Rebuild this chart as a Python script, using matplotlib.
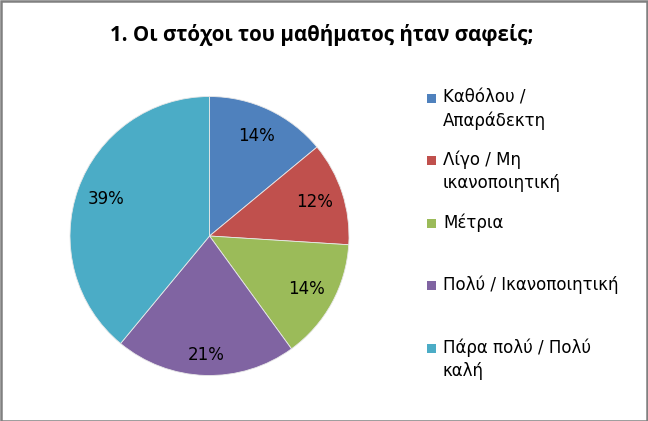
import matplotlib
matplotlib.use("Agg")
import numpy as np
import matplotlib.pyplot as plt
from matplotlib.patches import Rectangle

categories = ["Καθόλου /\nΑπαράδεκτη", "Λίγο / Μη\nικανοποιητική", "Μέτρια",
              "Πολύ / Ικανοποιητική", "Πάρα πολύ / Πολύ\nκαλή"]
values = [14, 12, 14, 21, 39]
colors = ["#4F81BD", "#C0504D", "#9BBB59", "#8064A2", "#4BACC6"]
title = "1. Οι στόχοι του μαθήματος ήταν σαφείς;"

plt.rcParams['font.family'] = ['DejaVu Sans']

W, H = 648, 421
fig = plt.figure(figsize=(W / 100, H / 100), dpi=100)

cx, cy, r = 209.5, 236, 139.5
ax = fig.add_axes([(cx - r) / W, (H - cy - r) / H, 2 * r / W, 2 * r / H])
wedges, texts, autotexts = ax.pie(values, colors=colors, startangle=90, counterclock=False,
                                  autopct='%1.0f%%', pctdistance=0.79,
                                  wedgeprops=dict(edgecolor='#e8e8e8', linewidth=0.6),
                                  textprops=dict(fontsize=12, color='#000000'))
# Excel "best fit" pushes the bottom label slightly further out
w = wedges[3]
th = np.deg2rad((w.theta1 + w.theta2) / 2)
autotexts[3].set_position((0.85 * np.cos(th), 0.85 * np.sin(th)))
ax.set_xlim(-1, 1)
ax.set_ylim(-1, 1)
ax.axis('off')

fig.text(322 / W, 1 - 35 / H, title, ha='center', va='center', fontsize=14.8,
         fontweight='bold', family=['Open Sans', 'DejaVu Sans'])

# legend
ys = [98, 160, 223, 285, 348]
for cat, col, y in zip(categories, colors, ys):
    fig.patches.append(Rectangle((427 / W, 1 - (y + 4.5) / H), 9 / W, 9 / H, transform=fig.transFigure,
                                 facecolor=col, edgecolor='none'))
    fig.text(443 / W, 1 - (y - 9.5) / H, cat, ha='left', va='top', fontsize=12,
             linespacing=1.35, color='#000000')

fig.patches.append(Rectangle((0.5 / W, 0.5 / H), (W - 1.5) / W, (H - 1.5) / H, transform=fig.transFigure,
                             facecolor='none', edgecolor='#808080', linewidth=1.8))

fig.savefig("out.png", dpi=100, facecolor='white')
